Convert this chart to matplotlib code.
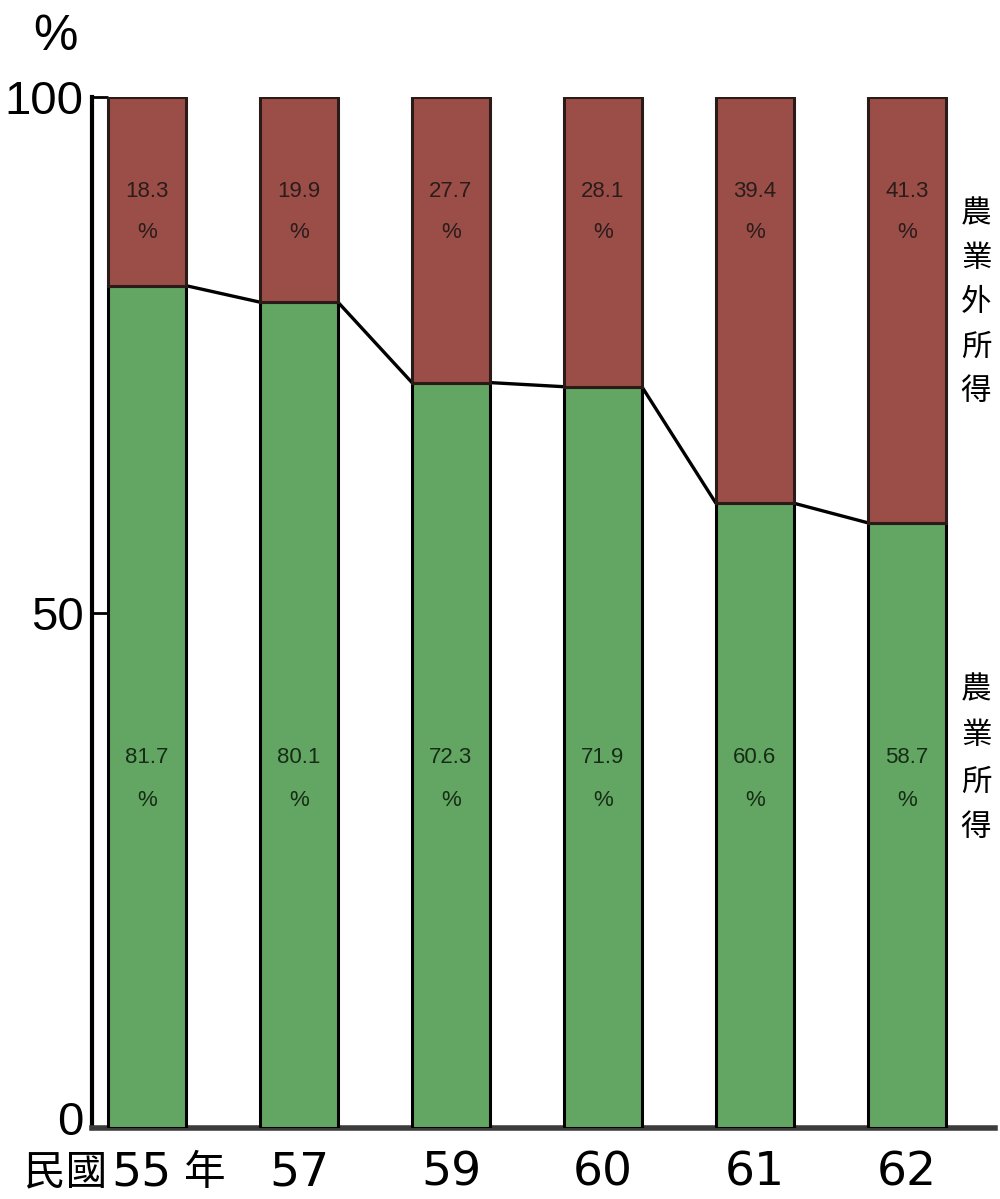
import numpy as np
import matplotlib.pyplot as plt
from matplotlib.transforms import ScaledTranslation

plt.rcParams['font.family'] = ['Liberation Sans', 'Noto Sans CJK TC', 'DejaVu Sans']

# Share of farm household income (%), by year (ROC calendar)
years = ['55', '57', '59', '60', '61', '62']
farm_income = [81.7, 80.1, 72.3, 71.9, 60.6, 58.7]
offfarm_income = [18.3, 19.9, 27.7, 28.1, 39.4, 41.3]

green = '#63a663'
red = '#9b4e48'
width = 0.513

fig = plt.figure(figsize=(10, 11.99), dpi=100)
ax = fig.add_axes([0.092, 1 - 1128 / 1199, 0.903, (1128 - 97) / 1199])

x = np.arange(len(years))
ax.bar(x, farm_income, width, color=green, edgecolor='black', linewidth=2.2, zorder=3)
ax.bar(x, offfarm_income, width, bottom=farm_income, color=red,
       edgecolor='#2a1a18', linewidth=2.2, zorder=3)

# line joining the tops of the farm-income bars
lx, ly = [], []
for xi, g in zip(x, farm_income):
    lx += [xi - width / 2, xi + width / 2]
    ly += [g, g]
ax.plot(lx, ly, color='black', lw=2.4, zorder=2, solid_capstyle='butt')

# value labels inside the bars
for xi, g, o in zip(x, farm_income, offfarm_income):
    ax.text(xi, 90.8, f'{o:.1f}', ha='center', va='center', fontsize=16, color='#2a1c1a', zorder=4)
    ax.text(xi, 86.9, '%', ha='center', va='center', fontsize=16, color='#2a1c1a', zorder=4)
    ax.text(xi, 35.9, f'{g:.1f}', ha='center', va='center', fontsize=16, color='#162c16', zorder=4)
    ax.text(xi, 31.8, '%', ha='center', va='center', fontsize=16, color='#162c16', zorder=4)

ax.set_xlim(-0.362, 5.58)
ax.set_ylim(0, 100)

ax.set_yticks([0, 50, 100])
ax.set_yticklabels(['0', '50', '100'], fontsize=34)
ax.set_xticks(x)
ax.set_xticklabels(years, fontsize=34, family='DejaVu Sans')
ax.tick_params(axis='y', direction='in', length=11.5, width=2, pad=6)
ax.tick_params(axis='x', length=0, pad=16)

# lift the "0" label so it sits above the baseline
zero = ax.get_yticklabels()[0]
zero.set_transform(zero.get_transform() + ScaledTranslation(0, 0.1, fig.dpi_scale_trans))
# nudge the first year left to leave room for the 年 suffix
first = ax.get_xticklabels()[0]
first.set_transform(first.get_transform() + ScaledTranslation(-0.06, 0, fig.dpi_scale_trans))

for side in ['top', 'right']:
    ax.spines[side].set_visible(False)
ax.spines['left'].set_linewidth(3.0)
ax.spines['bottom'].set_linewidth(4.0)
ax.spines['bottom'].set_color('#3c3c3c')

# year prefix/suffix around the first tick label
cjk = ['Noto Sans CJK TC', 'DejaVu Sans']
fig.text(0.066, 1 - 1173 / 1199, '民國', family=cjk, fontsize=30, ha='center', va='center')
fig.text(0.205, 1 - 1173 / 1199, '年', family=cjk, fontsize=30, ha='center', va='center')

fig.text(0.055, 1 - 37 / 1199, '%', fontsize=36, ha='center', va='center')

# vertical series labels on the right
for i, ch in enumerate('農業外所得'):
    fig.text(0.976, 1 - (214 + 44.5 * i) / 1199, ch, family=cjk, fontsize=22,
             ha='center', va='center', weight='light')
for i, ch in enumerate('農業所得'):
    fig.text(0.976, 1 - (690 + 46 * i) / 1199, ch, family=cjk, fontsize=22,
             ha='center', va='center', weight='light')

fig.savefig('out.png', dpi=100, facecolor='white')
